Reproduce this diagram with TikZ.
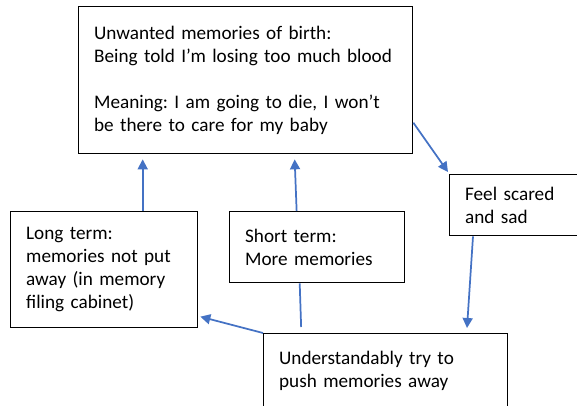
\documentclass[tikz,border=0pt]{standalone}
\usepackage{fontspec}
\setmainfont{Carlito}
\usepackage{xcolor}
\definecolor{azulSeta}{RGB}{68,114,196}
\usepackage{tikz}
\usetikzlibrary{arrows.meta,calc}
\frenchspacing

\begin{document}
\begin{tikzpicture}[x=0.75pt,y=-0.75pt,
            caixa/.style={draw=black,line width=1pt,fill=white,anchor=north west,
              inner xsep=11.6pt,inner ysep=0pt,align=left,
              font=\fontsize{14.4}{17.2}\selectfont},
            seta/.style={-{Triangle[length=7.5pt,width=7.5pt]},azulSeta,line width=1.3pt},
            linha/.style={azulSeta,line width=1.3pt}
            ]
            \useasboundingbox (0,0) rectangle (577,406);
            \clip (0,0) rectangle (577,406);

            \node[caixa,minimum width=250.5pt,minimum height=110.25pt,
              text width=227.3pt]                        (main) at (78,6)
              {Unwanted memories of birth:\\Being told I’m losing too much blood\\[17.2pt]Meaning: I am going to die, I won’t\\be there to care for my baby};
            \node[caixa,minimum width=140.25pt,minimum height=87pt,
              text width=117pt]                          (long) at (10,211)
              {Long term:\\memories not put\\away (in memory\\filing cabinet)};
            \node[caixa,minimum width=131.25pt,minimum height=53.25pt,
              text width=108pt]                          (short) at (229,211)
              {Short term:\\More memories};
            \node[caixa,minimum width=120pt,minimum height=45.75pt,
              text width=96.8pt]                         (feel) at (449,174)
              {Feel scared\\and sad};
            \node[caixa,minimum width=183pt,minimum height=56pt,
              text width=159.8pt]                        (push) at (263,333)
              {Understandably try to\\push memories away};

            \draw[seta] ([xshift=28.9pt]long.north) -- ([xshift=28.9pt,yshift=-3.75pt]long.north |- main.south);
            \draw[seta] ([xshift=-15.4pt]short.north) -- ([xshift=36.75pt,yshift=-3.75pt]main.south);
            \draw[linha] ([xshift=-63.4pt,yshift=4.5pt]push.north) -- ([xshift=-13.1pt]short.south);
            \draw[seta] (push.north west) -- ([xshift=1.5pt,yshift=-35.25pt]long.east);
            \draw[seta] ([yshift=-31.9pt]main.east) -- ([xshift=-0.75pt,yshift=1.5pt]feel.north west);
            \draw[seta] ([xshift=18pt]feel.south west) -- ([xshift=153pt,yshift=3.75pt]push.north west);
          \end{tikzpicture}
\end{document}
